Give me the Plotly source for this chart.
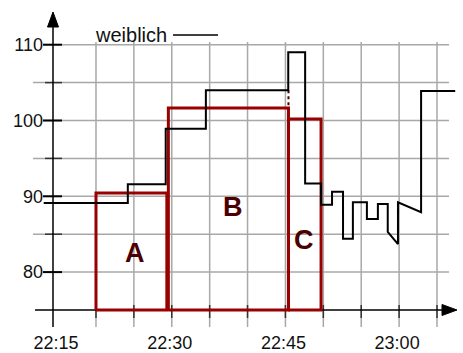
import plotly.graph_objects as go

# ---------------- data ----------------
series_name = "weiblich"
# time in minutes after 22:00, value of the black step line
minutes = [13.1, 24.2, 24.2, 29.2, 29.2, 34.5, 34.5, 45.37, 45.37, 47.6, 47.6, 49.7,
           49.7, 51.15, 51.15, 52.6, 52.6, 53.9, 53.9, 55.75, 55.75, 57.2, 57.2, 58.5,
           58.5, 59.85, 59.85, 62.9, 62.9, 67.4]
values = [89.1, 89.1, 91.6, 91.6, 98.9, 98.9, 104.0, 104.0, 109.0, 109.0, 91.7, 91.7,
          88.9, 88.9, 90.6, 90.6, 84.4, 84.4, 89.2, 89.2, 87.0, 87.0, 89.0, 89.0,
          85.3, 83.7, 89.2, 87.9, 103.9, 103.9]

block_labels = ["A", "B", "C"]
block_start = [20.0, 29.55, 45.4]
block_end = [29.35, 45.4, 49.7]
block_top = [90.45, 101.65, 100.2]
block_base = 75.0
block_label_x = [25.15, 38.1, 47.45]
block_label_y = [82.5, 88.6, 84.25]

x_tick_vals = [15, 30, 45, 60]
x_tick_text = ["22:15", "22:30", "22:45", "23:00"]
x_grid_vals = [20, 25, 30, 35, 40, 45, 50, 55, 60, 65]
y_tick_vals = [80, 90, 100, 110]
y_tick_text = ["80", "90", "100", "110"]
y_minor_vals = [85, 95, 105]

# ---------------- geometry / style ----------------
W, H = 463, 353
PX_PER_MIN = 7.578
PX_PER_UNIT = 7.58
X0 = 15 - 58.1 / PX_PER_MIN
X1 = 15 + (W - 58.1) / PX_PER_MIN
Y0 = 75 - (H - 310) / PX_PER_UNIT
Y1 = 75 + 310 / PX_PER_UNIT

def dx(px):
    return px / PX_PER_MIN

def dy(px):
    return px / PX_PER_UNIT

yaxis_x = 15 + (53 - 58.1) / PX_PER_MIN
xaxis_y = 75.0
grid_left_minor = 15 + (33 - 58.1) / PX_PER_MIN
grid_left_major = 15 + (43 - 58.1) / PX_PER_MIN
grid_right = 15 + (449 - 58.1) / PX_PER_MIN
grid_top = 75 + (310 - 42) / PX_PER_UNIT
grid_bottom = 75 - (327 - 310) / PX_PER_UNIT

GRID = "#a8a8a8"
RED = "#990000"
DARK = "#4a0000"

shapes = []
for v in y_minor_vals:
    shapes.append(dict(type="line", xref="x", yref="y", x0=grid_left_minor, x1=grid_right,
                       y0=v, y1=v, line=dict(color=GRID, width=1.5), layer="below"))
for v in y_tick_vals:
    shapes.append(dict(type="line", xref="x", yref="y", x0=grid_left_major, x1=grid_right,
                       y0=v, y1=v, line=dict(color=GRID, width=1.5), layer="below"))
for m in x_grid_vals:
    shapes.append(dict(type="line", xref="x", yref="y", x0=m, x1=m,
                       y0=grid_bottom, y1=grid_top, line=dict(color=GRID, width=1.5), layer="below"))
# x ticks (crossing the axis)
for m in x_grid_vals:
    shapes.append(dict(type="line", xref="x", yref="y", x0=m, x1=m,
                       y0=xaxis_y - dy(8), y1=xaxis_y + dy(5),
                       line=dict(color="#333333", width=1.5), layer="below"))
# y ticks
for v in y_tick_vals:
    shapes.append(dict(type="line", xref="x", yref="y", x0=yaxis_x - dx(10), x1=yaxis_x + dx(9),
                       y0=v, y1=v, line=dict(color="black", width=2), layer="below"))
for v in y_minor_vals:
    shapes.append(dict(type="line", xref="x", yref="y", x0=yaxis_x - dx(8), x1=yaxis_x + dx(9),
                       y0=v, y1=v, line=dict(color="#333333", width=1.5), layer="below"))
# axis lines
x_axis_start = 15 + (35 - 58.1) / PX_PER_MIN
x_axis_tip = 15 + (457 - 58.1) / PX_PER_MIN
y_axis_tip = 75 + (310 - 12) / PX_PER_UNIT
shapes.append(dict(type="line", xref="x", yref="y", x0=x_axis_start, x1=x_axis_tip - dx(10),
                   y0=xaxis_y, y1=xaxis_y, line=dict(color="black", width=1.5), layer="below"))
shapes.append(dict(type="line", xref="x", yref="y", x0=yaxis_x, x1=yaxis_x,
                   y0=grid_bottom, y1=y_axis_tip - dy(10), line=dict(color="black", width=1.5), layer="below"))
# arrowheads
shapes.append(dict(type="path", xref="x", yref="y",
                   path=f"M {x_axis_tip},{xaxis_y} L {x_axis_tip - dx(15)},{xaxis_y + dy(5.5)} "
                        f"L {x_axis_tip - dx(15)},{xaxis_y - dy(5.5)} Z",
                   fillcolor="black", line=dict(color="black", width=1), layer="below"))
shapes.append(dict(type="path", xref="x", yref="y",
                   path=f"M {yaxis_x},{y_axis_tip} L {yaxis_x - dx(5.5)},{y_axis_tip - dy(15)} "
                        f"L {yaxis_x + dx(5.5)},{y_axis_tip - dy(15)} Z",
                   fillcolor="black", line=dict(color="black", width=1), layer="below"))
# legend sample line
legend_y = 75 + (310 - 35) / PX_PER_UNIT
legend_x0 = 15 + (173 - 58.1) / PX_PER_MIN
legend_x1 = 15 + (218 - 58.1) / PX_PER_MIN
shapes.append(dict(type="line", xref="x", yref="y", x0=legend_x0, x1=legend_x1,
                   y0=legend_y, y1=legend_y, line=dict(color="black", width=1.5)))

fig = go.Figure()

# red blocks
bx, by = [], []
for s, e, t in zip(block_start, block_end, block_top):
    bx += [s, s, e, e, s, None]
    by += [block_base, t, t, block_base, block_base, None]
fig.add_trace(go.Scatter(x=bx, y=by, mode="lines", line=dict(color=RED, width=3),
                         hoverinfo="skip", showlegend=False))

# dotted connector between black line and block B
fig.add_trace(go.Scatter(x=[block_end[1], block_end[1]], y=[values[6], block_top[1]],
                         mode="lines", line=dict(color=DARK, width=2, dash="dot"),
                         hoverinfo="skip", showlegend=False))

# black series
fig.add_trace(go.Scatter(x=minutes, y=values, mode="lines", name=series_name,
                         line=dict(color="black", width=2), showlegend=False))

annotations = []
for lab, lx, ly in zip(block_labels, block_label_x, block_label_y):
    annotations.append(dict(x=lx, y=ly, xref="x", yref="y", text=f"<b>{lab}</b>", showarrow=False,
                            font=dict(family="Liberation Sans", size=27, color=DARK),
                            xanchor="center", yanchor="middle"))
annotations.append(dict(x=legend_x0 - dx(4), y=legend_y, xref="x", yref="y", text=series_name,
                        showarrow=False, xanchor="right", yanchor="middle",
                        font=dict(family="Liberation Sans", size=20, color="#111111")))

fig.update_layout(
    width=W, height=H,
    margin=dict(l=0, r=0, t=0, b=0, pad=0),
    paper_bgcolor="white", plot_bgcolor="white",
    shapes=shapes, annotations=annotations,
    showlegend=False,
    xaxis=dict(range=[X0, X1], anchor="free", position=(H - 310) / H,
               showgrid=False, zeroline=False, showline=False, ticks="",
               tickvals=x_tick_vals, ticktext=x_tick_text, ticklabelshift=-2,
               ticklabelstandoff=20, automargin=False,
               tickfont=dict(family="Liberation Sans", size=18, color="#111111")),
    yaxis=dict(range=[Y0, Y1], anchor="free", position=53 / W,
               showgrid=False, zeroline=False, showline=False, ticks="",
               tickvals=y_tick_vals, ticktext=y_tick_text, ticklabelstandoff=10,
               automargin=False,
               tickfont=dict(family="Liberation Sans", size=18, color="#111111")),
)

fig.write_html("out.html", config={"displayModeBar": False},
               post_script="document.body.style.margin='0';document.body.style.overflow='hidden';")
